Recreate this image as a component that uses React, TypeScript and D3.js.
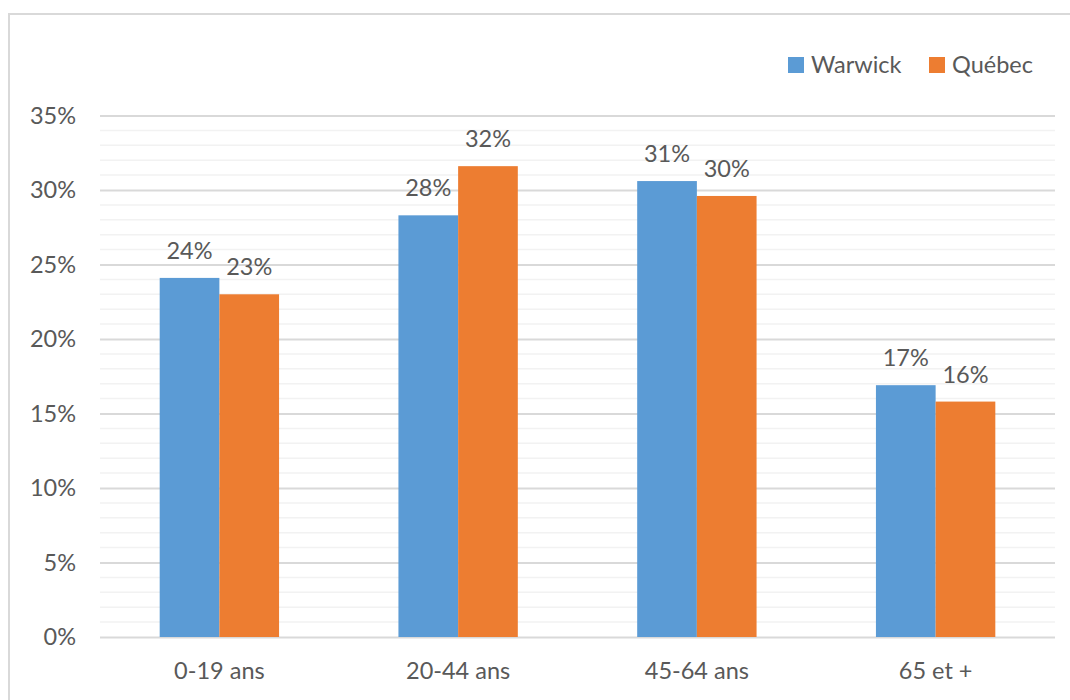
import React, { useEffect, useRef } from 'react';
import * as d3 from 'd3';

const categories = ['0-19 ans', '20-44 ans', '45-64 ans', '65 et +'];
const seriesNames = ['Warwick', 'Québec'];
const warwick = [24.1, 28.3, 30.6, 16.9];
const quebec = [23.0, 31.6, 29.6, 15.8];
const colors = ['#5b9bd5', '#ed7d31'];
const yTicks = [0, 5, 10, 15, 20, 25, 30, 35];

const App: React.FC = () => {
    const svgRef = useRef<SVGSVGElement>(null);

    useEffect(() => {
        if (!svgRef.current) return;
        const svg = d3.select(svgRef.current);
        svg.selectAll('*').remove();

        const width = 1070;
        const height = 700;
        const margin = { top: 115.5, right: 15, bottom: 63, left: 100 };
        const font = 'Lato, "Open Sans", sans-serif';
        const textColor = '#595959';
        const fontSize = '23.5px';

        // outer chart frame
        svg.append('rect')
            .attr('x', 9)
            .attr('y', 14)
            .attr('width', width + 20)
            .attr('height', height + 20)
            .attr('fill', '#fff')
            .attr('stroke', '#d9d9d9')
            .attr('stroke-width', 2);

        const x0 = d3.scaleBand<string>()
            .domain(categories)
            .range([margin.left, width - margin.right]);

        const bw = x0.bandwidth();
        const x1 = d3.scaleBand<string>()
            .domain(seriesNames)
            .range([bw * 0.25, bw * 0.75]);

        const y = d3.scaleLinear()
            .domain([0, 35])
            .range([height - margin.bottom, margin.top]);

        // minor grid lines
        svg.append('g')
            .selectAll('line')
            .data(d3.range(0, 36).filter(v => v % 5 !== 0))
            .join('line')
            .attr('x1', margin.left)
            .attr('x2', width - margin.right)
            .attr('y1', d => y(d))
            .attr('y2', d => y(d))
            .attr('stroke', '#f2f2f2')
            .attr('stroke-width', 1.5);

        // major grid lines + y labels
        const yAxis = svg.append('g')
            .attr('transform', `translate(${margin.left},0)`)
            .call(d3.axisLeft(y)
                .tickValues(yTicks)
                .tickSize(-(width - margin.left - margin.right))
                .tickPadding(24)
                .tickFormat(d => `${d}%`));
        yAxis.select('.domain').remove();
        yAxis.selectAll('.tick line')
            .attr('stroke', '#d9d9d9')
            .attr('stroke-width', 2);
        yAxis.selectAll('.tick text')
            .attr('fill', textColor)
            .style('font-family', font)
            .style('font-size', fontSize);

        // bars
        const data = [warwick, quebec];
        const groups = svg.append('g')
            .selectAll('g')
            .data(categories)
            .join('g')
            .attr('transform', d => `translate(${x0(d)},0)`);

        seriesNames.forEach((s, si) => {
            groups.append('rect')
                .attr('x', x1(s)!)
                .attr('y', (_, i) => y(data[si][i]))
                .attr('width', x1.bandwidth())
                .attr('height', (_, i) => y(0) - y(data[si][i]))
                .attr('fill', colors[si]);

            groups.append('text')
                .attr('x', x1(s)! + x1.bandwidth() / 2)
                .attr('y', (_, i) => y(data[si][i]) - 19)
                .attr('text-anchor', 'middle')
                .attr('fill', textColor)
                .style('font-family', font)
                .style('font-size', fontSize)
                .text((_, i) => `${Math.round(data[si][i])}%`);
        });

        // x axis labels
        svg.append('g')
            .selectAll('text')
            .data(categories)
            .join('text')
            .attr('x', d => x0(d)! + bw / 2)
            .attr('y', height - margin.bottom + 42)
            .attr('text-anchor', 'middle')
            .attr('fill', textColor)
            .style('font-family', font)
            .style('font-size', fontSize)
            .text(d => d);

        // legend
        const legendPos = [788, 929];
        const legend = svg.append('g');
        seriesNames.forEach((s, i) => {
            legend.append('rect')
                .attr('x', legendPos[i])
                .attr('y', 57)
                .attr('width', 16)
                .attr('height', 16)
                .attr('fill', colors[i]);
            legend.append('text')
                .attr('x', legendPos[i] + 23)
                .attr('y', 73)
                .attr('fill', textColor)
                .style('font-family', font)
                .style('font-size', fontSize)
                .text(s);
        });
    }, []);

    return (
        <svg
            ref={svgRef}
            width={1070}
            height={700}
            style={{ position: 'absolute', left: 0, top: 0, background: '#fff' }}
        />
    );
};

export default App;
